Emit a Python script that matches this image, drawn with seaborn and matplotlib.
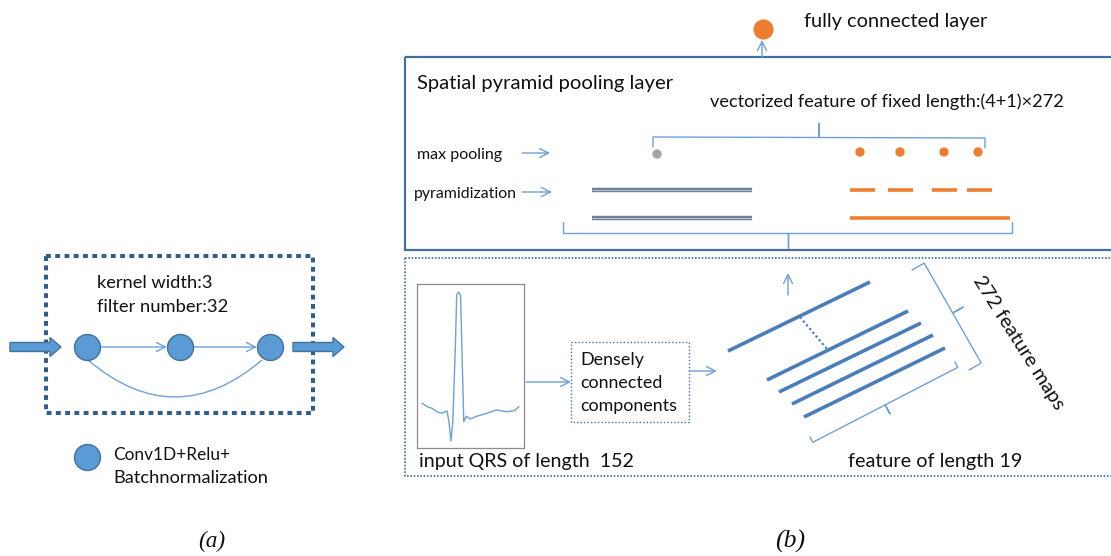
import numpy as np
import pandas as pd
import seaborn as sns
import matplotlib.pyplot as plt
from matplotlib.patches import Rectangle, FancyArrow, PathPatch
from matplotlib.path import Path

# ECG input beat (sample index, amplitude)
ecg_sample = [0, 8, 16, 23, 31, 39, 42, 45, 48, 52, 54, 57, 60, 62, 65, 69, 75, 85, 101, 116, 131, 144, 151]
ecg_amp = [0.015, -0.015, -0.03, -0.06, -0.073, -0.053, -0.148, -0.32, -0.148, 0.53, 0.973, 1.0,
           0.973, 0.53, -0.148, -0.10, -0.124, -0.10, -0.073, -0.044, -0.06, -0.05, -0.015]

block_text = ['kernel width:3', 'filter number:32']
legend_text = ['Conv1D+Relu+', 'Batchnormalization']
dense_text = ['Densely', 'connected', 'components']
n_bins = [1, 4]  # pyramid levels

BLUE = '#5B9BD5'
DARK = '#41719C'
THIN = '#6FA0D8'
ORANGE = '#ED7D31'
GRAY = '#A5A5A5'

sns.set_style('white')
plt.rcParams['font.family'] = ['Lato', 'DejaVu Sans']

fig = plt.figure(figsize=(11.11, 5.56), dpi=100)
ax = fig.add_axes([0, 0, 1, 1])
ax.set_xlim(0, 1111)
ax.set_ylim(556, 0)
ax.axis('off')
renderer = fig.canvas.get_renderer()


def label(x, y, s, width, ha='left', rot=0, size=None, **kw):
    t = ax.text(x, y, s, ha=ha, va='center', fontsize=12, color='#111111', **kw)
    if size is None:
        w = t.get_window_extent(renderer).width
        size = 12 * width / w
    t.set_fontsize(size)
    t.set_rotation(rot)
    if rot:
        t.set_rotation_mode('anchor')
    return size


def arrow(x0, y0, x1, y1):
    ax.annotate('', xy=(x1, y1), xytext=(x0, y0),
                arrowprops=dict(arrowstyle='->', color=THIN, lw=1, mutation_scale=16,
                                shrinkA=0, shrinkB=0))


def brace(a, b, n, d, notch, color=THIN):
    a, b, n = np.array(a, float), np.array(b, float), np.array(n, float)
    m = (a + b) / 2
    pts = [a, a + n * d, m + n * d, m + n * (d + notch), m + n * d, b + n * d, b]
    pts = np.array(pts)
    ax.plot(pts[:, 0], pts[:, 1], color=color, lw=1, solid_joinstyle='round')


# ---------------- panel (a) ----------------
ax.add_patch(Rectangle((46, 256), 267, 157, fill=False, ec='#2F5D8C', lw=2.9,
                       ls=(0, (1.2, 1.1))))
for i, s in enumerate(block_text):
    label(97, 283 + 24 * i, s, [115, 131][i])

for x0 in [10, 293]:
    ax.add_patch(FancyArrow(x0, 347, 51, 0, width=9, head_width=19, head_length=11,
                            length_includes_head=True, fc=BLUE, ec=DARK, lw=1))

arrow(100, 347, 167, 347)
arrow(193, 347, 257, 347)
arc = Path([(88, 360), (175, 434), (262, 360)], [Path.MOVETO, Path.CURVE3, Path.CURVE3])
ax.add_patch(PathPatch(arc, fill=False, ec=THIN, lw=1))

nodes = pd.DataFrame({'x': [87, 180, 270, 87], 'y': [347, 347, 347, 457]})
sns.scatterplot(data=nodes, x='x', y='y', s=350, color=BLUE, edgecolor=DARK, linewidth=1,
                ax=ax, legend=False, zorder=5)
label(113, 455, legend_text[0], 117)
label(113, 478, legend_text[1], 155)

label(212, 541, '(a)', 27, ha='center', family='Liberation Serif', style='italic')

# ---------------- panel (b) ----------------
ax.add_patch(Rectangle((405, 57), 720, 193, fill=False, ec=DARK, lw=1.6))
ax.add_patch(Rectangle((405, 258), 720, 218, fill=False, ec=DARK, lw=1.2, ls=(0, (1, 1))))

fc = pd.DataFrame({'x': [763], 'y': [29]})
sns.scatterplot(data=fc, x='x', y='y', s=180, color=ORANGE, edgecolor=ORANGE, ax=ax, legend=False)
arrow(762, 57, 762, 40)
label(804, 21, 'fully connected layer', 184)
label(417, 84, 'Spatial pyramid pooling layer', 256)
label(710, 102, 'vectorized feature of fixed length:(4+1)\u00d7272', 354)
brace((653, 147), (985, 148), (0, -1), 10, 14)

label(417, 155, 'max pooling', 85)
arrow(522, 153, 550, 153)
label(414, 194, 'pyramidization', 102)
arrow(522, 192, 552, 192)

# pooled values: one gray (level n_bins[0]) and four orange (level n_bins[1])
pooled = pd.DataFrame({'x': [657, 860, 900, 944, 978], 'y': [154, 152, 152, 152, 152],
                       'level': [n_bins[0]] + [n_bins[1]] * n_bins[1]})
sns.scatterplot(data=pooled, x='x', y='y', hue='level', palette={1: GRAY, 4: ORANGE},
                s=45, edgecolor='none', ax=ax, legend=False)

for y in [190, 218]:
    ax.plot([592, 752], [y, y], color='#6F819B', lw=3.2, solid_capstyle='butt')
    ax.plot([592, 752], [y, y], color='#B9C4D3', lw=0.7, solid_capstyle='butt')
for x0, x1 in [(850, 875), (888, 913), (932, 957), (967, 992)]:
    ax.plot([x0, x1], [190, 190], color=ORANGE, lw=2.6, solid_capstyle='butt')
ax.plot([850, 1010], [218, 218], color=ORANGE, lw=2.6, solid_capstyle='butt')
brace((563, 222), (1012, 222), (0, 1), 11, 15)

arrow(788, 295, 788, 273)

# input beat
ecg = pd.DataFrame({'sample': ecg_sample, 'amp': ecg_amp})
ax_ecg = fig.add_axes([417 / 1111, 1 - 448 / 556, 107 / 1111, 164 / 556])
sns.lineplot(data=ecg, x='sample', y='amp', color=THIN, lw=1, ax=ax_ecg)
ax_ecg.set_xlim(-7.8, 158.8)
ax_ecg.set_ylim(-0.381, 1.071)
ax_ecg.set_xlabel('')
ax_ecg.set_ylabel('')
ax_ecg.set_xticks([])
ax_ecg.set_yticks(np.arange(-0.3, 1.05, 0.2))
ax_ecg.tick_params(axis='y', length=2, color='#C8C8C8', labelleft=False)
for sp in ax_ecg.spines.values():
    sp.set_color('#8C8C8C')
    sp.set_linewidth(0.9)

arrow(526, 382, 571, 382)
ax.add_patch(Rectangle((571, 342), 118, 80, fill=False, ec=DARK, lw=1, ls=(0, (1, 1.5))))
fs = None
for i, s in enumerate(dense_text[::-1]):
    fs = label(580, 406 - 23 * i, s, 97, size=fs)
arrow(689, 371, 717, 371)
label(419, 462, 'input QRS of length  152', 214)

# stacked feature maps
maps = [((728, 351), (870, 282)), ((767, 380), (908, 311)), ((779, 392), (921, 323)),
        ((792, 404), (933, 335)), ((804, 417), (945, 348))]
for (x0, y0), (x1, y1) in maps:
    ax.plot([x0, x1], [y0, y1], color='#4A7EBB', lw=2.6, solid_capstyle='butt')
ax.plot([800, 827], [317, 349], color='#4A7EBB', lw=1.6, ls=(0, (1, 1.2)))

brace((912, 270), (969, 370), (0.87, -0.496), 14, 12)
brace((810, 437), (955, 362), (0.46, 0.89), 6, 10)

label(1019, 343, '272 feature maps', 155, ha='center', rot=-57.6)
label(848, 461, 'feature of length 19', 175)
label(790, 541, '(b)', 30, ha='center', family='Liberation Serif', style='italic')

fig.savefig('out.png', dpi=100)
